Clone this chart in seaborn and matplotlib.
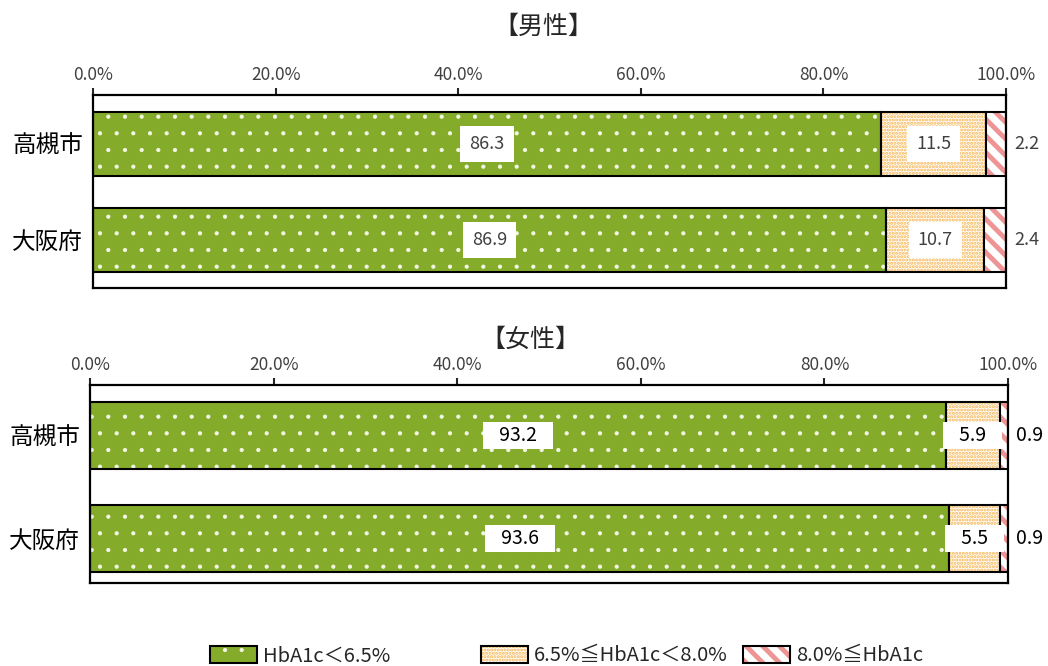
import numpy as np
import seaborn as sns
import matplotlib.pyplot as plt
import matplotlib.patches as mpatches
from matplotlib.ticker import FuncFormatter

# data (percent)
regions = ['高槻市', '大阪府']
male_low = [86.3, 86.9]
male_mid = [11.5, 10.7]
male_high = [2.2, 2.4]
female_low = [93.2, 93.6]
female_mid = [5.9, 5.5]
female_high = [0.9, 0.9]
legend_labels = ['HbA1c＜6.5%', '6.5%≦HbA1c＜8.0%', '8.0%≦HbA1c']
x_ticks = [0, 20, 40, 60, 80, 100]

GREEN = '#84AC2A'
ORANGE = '#F5B552'
RED = '#EE9494'

# (face colour, hatch colour, hatch, hatch linewidth) for each segment
styles = [
    (GREEN, '#F2F6E6', '.', 0.6),
    ('white', ORANGE, '.....', 1.5),
    ('white', RED, '\\\\', 3.5),
]

sns.set_style('white')
plt.rcParams['font.family'] = ['Noto Sans CJK JP', 'DejaVu Sans']
plt.rcParams['hatch.linewidth'] = 1.0


def set_hatch_lw(patches, lw):
    for p in patches:
        if hasattr(p, 'set_hatch_linewidth'):
            p.set_hatch_linewidth(lw)


def draw_panel(ax, low, mid, high, bar_h, ylim, txt_color, lab_size, lab_pad, spaces):
    """
    Draws one stacked bar panel (3 segments per region)
    """
    low = np.array(low)
    mid = np.array(mid)
    high = np.array(high)
    segs = [(low, np.zeros(2)), (mid, low), (high, low + mid)]
    for (vals, starts), (face, hcol, hatch, hlw) in zip(segs, styles):
        n0 = len(ax.patches)
        sns.barplot(x=vals, y=regions, orient='h', left=starts, width=bar_h,
                    color=face, saturation=1, facecolor=face, edgecolor=hcol,
                    hatch=hatch, linewidth=0, errorbar=None, ax=ax)
        set_hatch_lw(ax.patches[n0:], hlw)
        # black outline on top
        sns.barplot(x=vals, y=regions, orient='h', left=starts, width=bar_h,
                    color='black', saturation=1, facecolor='none',
                    edgecolor='black', linewidth=1.5, errorbar=None, ax=ax)

    # value labels
    sp = ' ' * spaces
    box = dict(boxstyle=f'square,pad={lab_pad}', fc='white', ec='none')
    for i in range(2):
        ax.text(low[i] / 2, i, f'{sp}{low[i]:.1f}{sp}', ha='center', va='center',
                fontsize=lab_size, color=txt_color, bbox=box)
        ax.text(low[i] + mid[i] / 2, i, f'{sp}{mid[i]:.1f}{sp}', ha='center',
                va='center', fontsize=lab_size, color=txt_color, bbox=box)
        ax.annotate(f'{high[i]:.1f}', xy=(100, i), xytext=(6, 0),
                    textcoords='offset points', ha='left', va='center',
                    fontsize=lab_size, color=txt_color, annotation_clip=False)

    ax.set_xlim(0, 100)
    ax.set_ylim(*ylim)
    ax.set_xticks(x_ticks)
    ax.xaxis.set_major_formatter(FuncFormatter(lambda v, p: f'{v:.1f}%'))
    ax.xaxis.tick_top()
    ax.tick_params(axis='x', direction='out', length=5, width=1.5, pad=3,
                   labelsize=12.5, labelcolor='#404040', top=True, bottom=False)
    ax.tick_params(axis='y', length=0, labelsize=17, pad=7, labelcolor='black')
    ax.set_xlabel('')
    ax.set_ylabel('')
    for s in ax.spines.values():
        s.set_visible(True)
        s.set_color('black')
        s.set_linewidth(1.6)


fig = plt.figure(figsize=(10.48, 6.66), dpi=100)
ax1 = fig.add_axes([0.0887, 0.5676, 0.8713, 0.2898])
ax2 = fig.add_axes([0.0859, 0.1246, 0.8760, 0.2973])

draw_panel(ax1, male_low, male_mid, male_high, 0.667, (1.5, -0.51), '#404040',
           13, 0.5, 0)
draw_panel(ax2, female_low, female_mid, female_high, 0.65, (1.43, -0.49), 'black',
           14, 0.15, 3)

fig.text(543 / 1048, 1 - 27 / 666, '【男性】', ha='center', va='center', fontsize=18)
fig.text(530 / 1048, 1 - 340 / 666, '【女性】', ha='center', va='center', fontsize=18)

# legend, one entry at a time to match the spacing
leg_x = [210, 481, 743]
for (face, hcol, hatch, hlw), lab, lx in zip(styles, legend_labels, leg_x):
    with plt.rc_context({'hatch.linewidth': hlw}):
        fill = mpatches.Patch(facecolor=face, edgecolor=hcol, hatch=hatch, linewidth=0)
        outline = mpatches.Patch(facecolor='none', edgecolor='black', linewidth=1.5)
        leg = fig.legend([(fill, outline)], [lab], loc='center left',
                         bbox_to_anchor=(lx / 1048, 1 - 656 / 666),
                         frameon=False, fontsize=14.5, borderpad=0, borderaxespad=0,
                         handlelength=2.35, handleheight=0.85, handletextpad=0.3)
    set_hatch_lw(leg.get_patches()[:1], hlw)

fig.savefig('out.png', dpi=100)
